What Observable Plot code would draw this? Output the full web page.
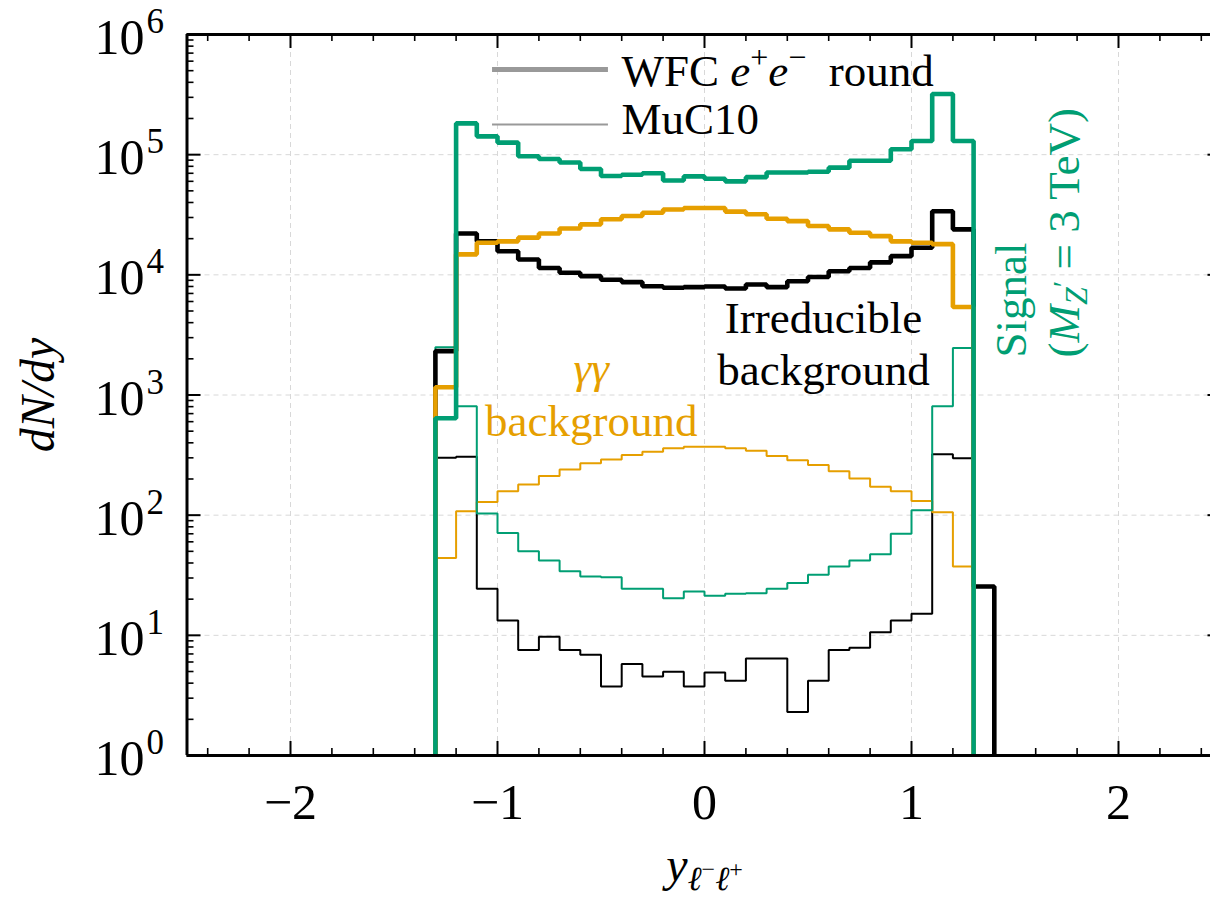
<!DOCTYPE html>
<html><head><meta charset="utf-8">
<script src="https://cdn.jsdelivr.net/npm/d3@7"></script>
<script src="https://cdn.jsdelivr.net/npm/@observablehq/plot@0.6"></script>
<style>
html,body{margin:0;padding:0;background:#fff;overflow:hidden}
#chart svg{display:block;overflow:hidden}
</style></head><body><div id="chart"></div>
<script>
// ---- data ----
const binStart = -1.3, binWidth = 0.1;
// WFC e+e- round (thick lines)
const wfcIrreducible = [2320, 22100, 19000, 15700, 13400, 11400, 10400, 9750, 9100, 8700, 8040, 7800, 7900, 8000, 7700, 8300, 7900, 8850, 9600, 10700, 11400, 12700, 14300, 16800, 33800, 23900, 25.5];
const wfcGammaGamma = [1160, 14800, 18500, 19000, 20400, 22100, 24300, 26300, 29000, 30900, 32900, 35000, 36000, 36000, 33600, 31900, 29300, 28000, 25500, 23900, 22400, 21000, 19000, 18500, 18000, 5400];
const wfcSignal = [640, 182000, 142000, 126000, 97000, 92000, 86000, 76000, 66500, 68000, 70000, 61000, 66000, 63000, 60000, 65000, 71000, 71000, 72000, 78000, 89000, 89000, 111000, 130000, 320000, 130000];
// MuC10 (thin lines)
const mucIrreducible = [300, 306, 24.4, 13.3, 7.55, 9.75, 7.55, 6.9, 3.75, 5.77, 4.55, 4.98, 3.75, 4.9, 4.19, 6.4, 6.4, 2.3, 4.19, 7.55, 7.9, 10.6, 13.3, 15.1, 322, 297];
const mucGammaGamma = [44, 108, 129, 158, 180, 212, 240, 270, 291, 316, 337, 360, 371, 371, 360, 344, 310, 287, 261, 232, 202, 172, 158, 131, 106, 37.4];
const mucSignal = [2500, 805, 103, 71, 50, 42, 34.2, 30.9, 30.5, 24.4, 24.4, 20.4, 23.2, 21.4, 22.2, 22.4, 24.4, 27.2, 31.9, 37.4, 42, 47.2, 70, 110, 805, 2460];

const xMajor = [-2, -1, 0, 1, 2];
const xMinor = [-2.4, -2.2, -1.8, -1.6, -1.4, -1.2, -0.8, -0.6, -0.4, -0.2, 0.2, 0.4, 0.6, 0.8, 1.2, 1.4, 1.6, 1.8, 2.2, 2.4];
const yMajor = [1, 10, 100, 1000, 10000, 100000, 1000000];
const yExponents = ["0", "1", "2", "3", "4", "5", "6"];
const yMinor = yMajor.slice(0, -1).flatMap(p => [2,3,4,5,6,7,8,9].map(m => m * p));

const legendRows = [
  {label: "WFC_LEGEND", x1: -1.024, x2: -0.464, yLine: 511000, yText: 376000},
  {label: "MuC10", x1: -1.024, x2: -0.464, yLine: 178000, yText: 150000}
];
const notesBlack = [{x: 0.575, y: 3250, text: "Irreducible"}, {x: 0.575, y: 1200, text: "background"}];
const notesOrange = [{x: -0.547, y: 1247, text: "γγ"}, {x: -0.547, y: 460, text: "background"}];
const notesGreen = [{x: 1.551, y: 2050, text: "Signal"}, {x: 1.807, y: 2050, text: "SIGNAL_LINE2"}];

// ---- helpers ----
const BASE = 0.05;
function steps(values) {
  const pts = [{x: binStart, y: BASE}];
  values.forEach((v, i) => pts.push({x: binStart + i * binWidth, y: v}));
  const xe = binStart + values.length * binWidth;
  pts.push({x: xe, y: values[values.length - 1]});
  pts.push({x: xe, y: BASE});
  return pts;
}
const GREEN = "#009E73", ORANGE = "#E69F00", BLACK = "#000000";
const W = 1210, H = 903, ML = 186.5, MT = 34, MB = 148, MR = 0;
const FH = H - MT - MB, FW = W - ML - MR;
const FONT = "Liberation Serif";
const hist = (vals, color, sw) => Plot.line(steps(vals), {x: "x", y: "y", curve: "step-after", stroke: color, strokeWidth: sw, clip: true, strokeLinejoin: "miter"});

const plot = Plot.plot({
  width: W, height: H,
  marginLeft: ML, marginTop: MT, marginBottom: MB, marginRight: MR,
  style: {fontFamily: FONT, background: "white", color: "black"},
  x: {domain: [-2.5, 2.5], range: [186.5, 1221.5], axis: null},
  y: {type: "log", domain: [1, 1e6], range: [755, 34], axis: null},
  marks: [
    Plot.ruleX(xMajor, {x: d => d, stroke: "#d8d8d8", strokeWidth: 1, strokeDasharray: "5,4"}),
    Plot.ruleY(yMajor.slice(1, -1), {y: d => d, stroke: "#d8d8d8", strokeWidth: 1, strokeDasharray: "5,4"}),
    hist(mucIrreducible, BLACK, 2),
    hist(mucGammaGamma, ORANGE, 2),
    hist(mucSignal, GREEN, 2),
    hist(wfcIrreducible, BLACK, 4.6),
    hist(wfcGammaGamma, ORANGE, 4.6),
    hist(wfcSignal, GREEN, 4.6),
    // ticks (inward, all sides)
    Plot.tickX(xMajor, {x: d => d, insetTop: FH - 14, stroke: BLACK, strokeWidth: 2}),
    Plot.tickX(xMinor, {x: d => d, insetTop: FH - 7, stroke: BLACK, strokeWidth: 1.6}),
    Plot.tickX(xMajor, {x: d => d, insetBottom: FH - 14, stroke: BLACK, strokeWidth: 2}),
    Plot.tickX(xMinor, {x: d => d, insetBottom: FH - 7, stroke: BLACK, strokeWidth: 1.6}),
    Plot.tickY(yMajor, {y: d => d, insetRight: FW - 14, stroke: BLACK, strokeWidth: 2}),
    Plot.tickY(yMinor, {y: d => d, insetRight: FW - 7, stroke: BLACK, strokeWidth: 1.6}),
    Plot.tickY(yMajor, {y: d => d, insetLeft: FW - 14, dx: 11.5, stroke: BLACK, strokeWidth: 2}),
    Plot.tickY(yMinor, {y: d => d, insetLeft: FW - 7, dx: 11.5, stroke: BLACK, strokeWidth: 1.6}),
    // spines
    Plot.ruleX([-2.5, 2.5], {x: d => d, stroke: BLACK, strokeWidth: 3}),
    Plot.ruleY([1, 1e6], {y: d => d, stroke: BLACK, strokeWidth: 3}),
    // tick labels
    Plot.text(xMajor, {x: d => d, frameAnchor: "bottom", dy: 63, lineAnchor: "bottom", textAnchor: "middle",
      text: d => d < 0 ? "\u2212" + Math.abs(d) : String(d), fontSize: 50, fill: BLACK}),
    Plot.text(yMajor, {y: d => d, frameAnchor: "left", dx: -42.5, dy: 19.5, lineAnchor: "bottom", textAnchor: "end",
      text: () => "10", fontSize: 50, fill: BLACK}),
    Plot.text(yMajor, {y: d => d, frameAnchor: "left", dx: -40.5, dy: -1.5, lineAnchor: "bottom", textAnchor: "start",
      text: (d, i) => yExponents[i], fontSize: 35, fill: BLACK}),
    // axis labels
    Plot.text([0], {x: d => d, frameAnchor: "bottom", dy: 125, lineAnchor: "bottom", textAnchor: "middle",
      text: () => "XLABEL", fontSize: 48, fill: BLACK}),
    Plot.text(["dN/dy"], {frameAnchor: "left", dx: -133.5, rotate: -90, lineAnchor: "bottom", textAnchor: "middle",
      text: d => d, fontSize: 48, fontStyle: "italic", fill: BLACK}),
    // legend
    Plot.ruleY(legendRows.slice(0, 1), {y: "yLine", x1: "x1", x2: "x2", stroke: "#999999", strokeWidth: 5}),
    Plot.ruleY(legendRows.slice(1), {y: "yLine", x1: "x1", x2: "x2", stroke: "#999999", strokeWidth: 2}),
    Plot.text(legendRows, {x: d => d.x2 + 0.063, y: "yText", text: "label", textAnchor: "start", lineAnchor: "bottom", fontSize: 45, fill: BLACK}),
    // annotations
    Plot.text(notesBlack, {x: "x", y: "y", text: "text", textAnchor: "middle", lineAnchor: "bottom", fontSize: 45, fill: BLACK}),
    Plot.text(notesOrange, {x: "x", y: "y", text: "text", textAnchor: "middle", lineAnchor: "bottom", fontSize: 45, fill: ORANGE}),
    Plot.text(notesGreen, {x: "x", y: "y", text: "text", textAnchor: "start", lineAnchor: "bottom", rotate: -90, fontSize: 45, fill: GREEN})
  ]
});
document.getElementById("chart").appendChild(plot);

// rich text (italics, sub/superscripts)
function rich(content, html) {
  d3.select(plot).selectAll("text").filter(function() { return this.textContent === content; }).html(html);
}
rich("XLABEL", '<tspan font-style="italic">y</tspan><tspan font-size="34" font-style="italic" dy="9">\u2113</tspan><tspan font-size="24" dy="-13">\u2212</tspan><tspan font-size="34" font-style="italic" dy="13">\u2113</tspan><tspan font-size="24" dy="-13">+</tspan>');
rich("WFC_LEGEND", 'WFC <tspan font-style="italic">e</tspan><tspan font-size="32" dy="-18">+</tspan><tspan font-style="italic" dy="18">e</tspan><tspan font-size="32" dy="-18">\u2212</tspan><tspan dy="18">  round</tspan>');
rich("SIGNAL_LINE2", '(<tspan font-style="italic">M</tspan><tspan font-size="32" font-style="italic" dy="8">Z</tspan><tspan font-size="30" dy="-14">\u2032</tspan><tspan dy="6"> = 3 TeV)</tspan>');
rich("γγ", '<tspan font-style="italic">γγ</tspan>');
</script>
</body></html>
